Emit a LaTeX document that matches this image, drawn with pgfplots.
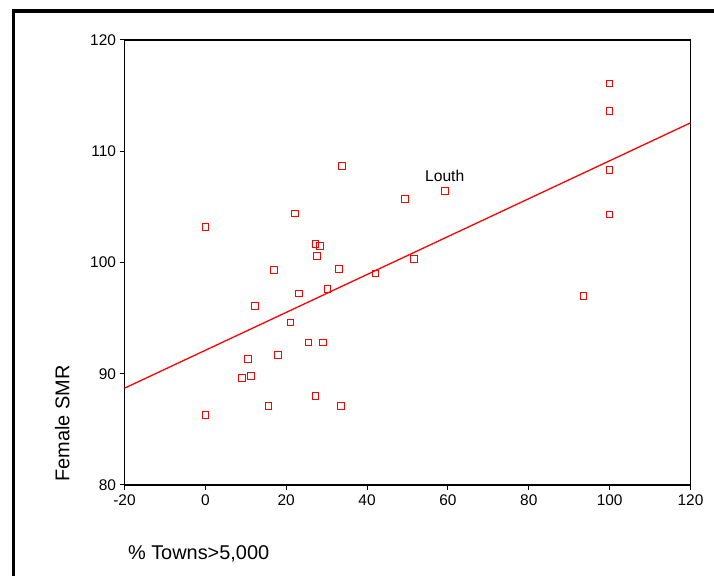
\documentclass[border=0pt]{standalone}
\usepackage{fontspec}
\setmainfont{Liberation Sans}
\usepackage{pgfplots}
\pgfplotsset{compat=1.18}

\begin{document}
\begin{tikzpicture}[x=1bp,y=1bp]
\useasboundingbox (0,0) rectangle (714,576);
% frame round the chart (right and bottom edges fall outside)
\draw[line width=3.3bp] (13.3,0) -- (13.3,565) -- (714,565);
\begin{axis}[
    at={(124.5bp,91bp)}, anchor=south west,
    width=566bp, height=445bp, scale only axis,
    xmin=-20, xmax=120, ymin=80, ymax=120,
    xtick={-20,0,20,40,60,80,100,120},
    ytick={80,90,100,110,120},
    xtick pos=left, ytick pos=left,
    tick align=outside, major tick length=5bp,
    tick style={black, line width=1bp},
    axis line style={line width=1.3bp},
    /pgf/number format/assume math mode=true,
    ticklabel style={font=\fontsize{15.5}{17}\selectfont},
    xticklabel style={yshift=-1bp},
    label style={font=\fontsize{20}{22}\selectfont},
    xlabel={\% Towns>5,000},
    xlabel style={at={(axis description cs:0,-0.1673)}, anchor=base west},
    ylabel={Female SMR},
    ylabel style={at={(axis description cs:-0.0975,0)}, anchor=base west},
    clip=false,
]
\addplot[only marks, mark=square, mark size=3.3bp, red, line width=1bp]
coordinates {
    (0,103.2) (0,86.3) (12.35,96.1) (17.05,99.3) (10.55,91.3)
    (9.06,89.6) (11.3,89.8) (15.66,87.1) (17.9,91.7) (21.1,94.6)
    (22.2,104.4) (23.1,97.2) (27.2,101.65) (28.4,101.5) (27.6,100.6)
    (33.05,99.4) (42.1,99.0) (51.6,100.3) (49.4,105.7) (30.2,97.6)
    (25.5,92.8) (29.1,92.8) (27.2,88.0) (33.5,87.1) (33.8,108.7)
    (59.3,106.4) (100,116.1) (100,113.6) (100,108.3) (100,104.3)
    (93.5,97.0)
};
% fitted line
\addplot[red, line width=1.3bp] coordinates {(-20,88.7) (120,112.55)};
\node[anchor=base, font=\fontsize{15.7}{17}\selectfont] at (axis cs:59.2,107.3) {Louth};
\end{axis}
\end{tikzpicture}
\end{document}
